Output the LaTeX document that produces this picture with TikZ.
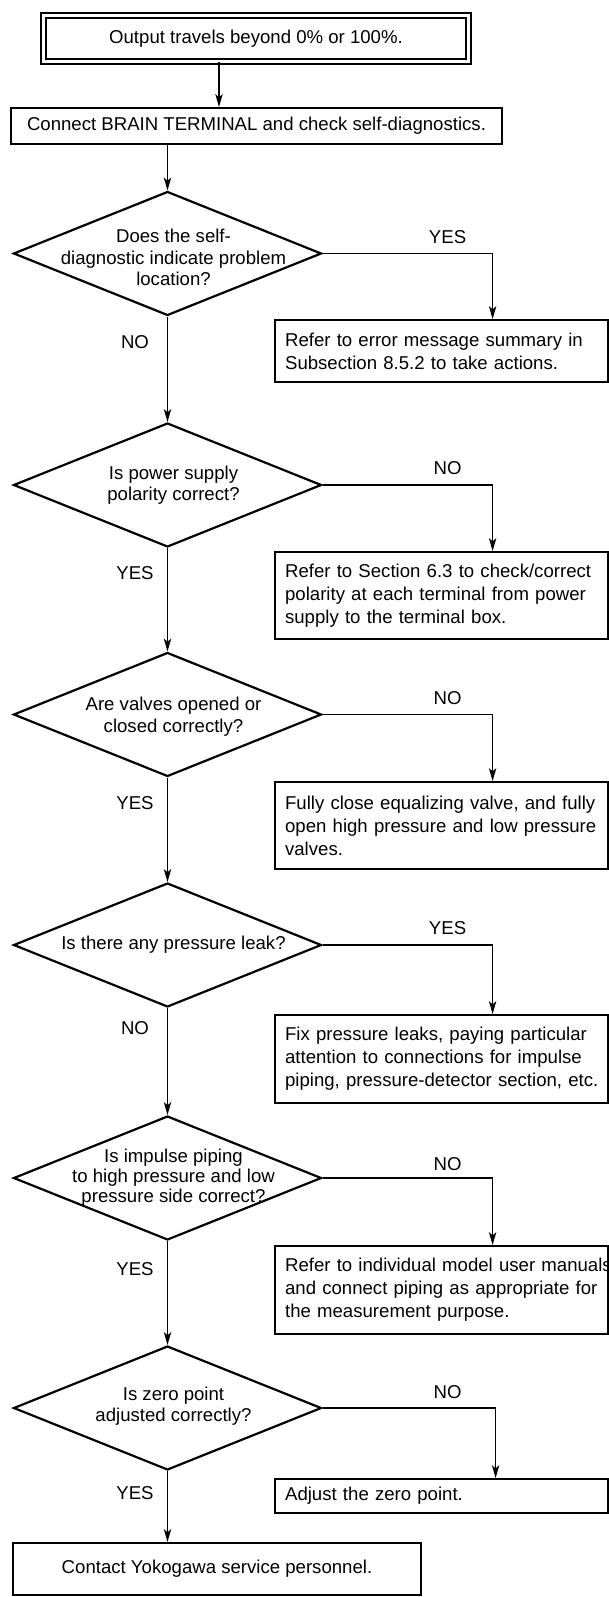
\documentclass[tikz,border=0pt]{standalone}
\usepackage{fontspec}
\setmainfont{Liberation Sans}
\usetikzlibrary{arrows.meta,shapes.geometric}
\tikzset{
  >={Stealth[length=13pt,width=7.5pt,inset=3.5pt]},
  every node/.style={font=\fontsize{18.6pt}{23pt}\selectfont},
  start/.style={draw,double,double distance=3pt,line width=2pt,
    minimum width=425pt,minimum height=46pt,inner sep=0pt,align=center},
  box/.style={draw,line width=2.2pt,inner sep=0pt,align=center},
  act/.style={draw,line width=2.2pt,anchor=north west,minimum width=333pt,
    text width=313pt,inner xsep=10pt,inner ysep=0pt,align=left,minimum height=#1},
  act/.default=87pt,
  decision/.style={diamond,draw,line width=2.2pt,minimum width=308pt,
    minimum height=124pt,inner sep=0pt},
  qtext/.style={align=center,inner sep=0pt,font=\fontsize{18.6pt}{21.5pt}\selectfont},
  flow/.style={->,line width=1.1pt},
  tag/.style={inner sep=0pt},
}
\begin{document}
\begin{tikzpicture}[x=1pt,y=-1pt]
  \useasboundingbox (0,0) rectangle (609,1597);
  % start and first step
  \node[start] (start) at (256,38.5) {Output travels beyond 0\% or 100\%.};
  \node[box,minimum width=491pt,minimum height=36pt] (conn) at (256.5,126) {Connect BRAIN TERMINAL and check self-diagnostics.};
  \coordinate (s1) at ([xshift=-37pt]start.south);
  \draw[flow] (s1) -- (s1 |- conn.north);

  % checks
  \node[decision] (d1) at (167.5,253.5) {};
  \node[qtext] (q1) at ([xshift=6pt,yshift=-4pt]d1.center) {Does the self-\\diagnostic indicate problem\\location?};
  \node[act=62pt] (r1) at (274,319) {Refer to error message summary in\\Subsection 8.5.2 to take actions.};
  \draw[flow] (conn.south -| d1.north) -- (d1.north);
  \draw[flow] (d1.east) -| ([xshift=51pt]r1.north);
  \node[tag] (t1) at ([xshift=125pt,yshift=16pt]d1.east) {YES};
  \node[tag] (n1) at ([xshift=-32.5pt,yshift=-25pt]d1.south) {NO};

  \node[decision] (d2) at (167.5,485) {};
  \node[qtext] (q2) at ([xshift=6pt]d2.center) {Is power supply\\polarity correct?};
  \node[act] (r2) at (274,551) {Refer to Section 6.3 to check/correct\\polarity at each terminal from power\\supply to the terminal box.};
  \draw[flow] (d1.south) -- (d2.north);
  \draw[flow] (d2.east) -| ([xshift=51pt]r2.north);
  \node[tag] (t2) at ([xshift=125pt,yshift=17pt]d2.east) {NO};
  \node[tag] (n2) at ([xshift=-32.5pt,yshift=-25pt]d2.south) {YES};

  \node[decision] (d3) at (167.5,714.5) {};
  \node[qtext] (q3) at ([xshift=6pt,yshift=-2pt]d3.center) {Are valves opened or\\closed correctly?};
  \node[act] (r3) at (274,781) {Fully close equalizing valve, and fully\\open high pressure and low pressure\\valves.};
  \draw[flow] (d2.south) -- (d3.north);
  \draw[flow] (d3.east) -| ([xshift=51pt]r3.north);
  \node[tag] (t3) at ([xshift=125pt,yshift=16pt]d3.east) {NO};
  \node[tag] (n3) at ([xshift=-32.5pt,yshift=-25pt]d3.south) {YES};

  \node[decision] (d4) at (167.5,945) {};
  \node[qtext] (q4) at ([xshift=6pt]d4.center) {Is there any pressure leak?};
  \node[act=88pt] (r4) at (274,1014) {Fix pressure leaks, paying particular\\attention to connections for impulse\\\mbox{piping, pressure-detector section, etc.}};
  \draw[flow] (d3.south) -- (d4.north);
  \draw[flow] (d4.east) -| ([xshift=51pt]r4.north);
  \node[tag] (t4) at ([xshift=125pt,yshift=17pt]d4.east) {YES};
  \node[tag] (n4) at ([xshift=-32.5pt,yshift=-20pt]d4.south) {NO};

  \node[decision] (d5) at (167.5,1178) {};
  \node[qtext,font=\fontsize{18.6pt}{20pt}\selectfont] (q5) at ([xshift=6pt]d5.center) {Is impulse piping\\to high pressure and low\\pressure side correct?};
  \node[act=88pt] (r5) at (274,1245) {\mbox{Refer to individual model user manuals}\\and connect piping as appropriate for\\the measurement purpose.};
  \draw[flow] (d4.south) -- (d5.north);
  \draw[flow] (d5.east) -| ([xshift=51pt]r5.north);
  \node[tag] (t5) at ([xshift=125pt,yshift=14pt]d5.east) {NO};
  \node[tag] (n5) at ([xshift=-32.5pt,yshift=-28pt]d5.south) {YES};

  \node[decision] (d6) at (167.5,1408) {};
  \node[qtext] (q6) at ([xshift=6pt,yshift=2pt]d6.center) {Is zero point\\adjusted correctly?};
  \node[act=34pt] (r6) at (274,1478) {Adjust the zero point.};
  \draw[flow] (d5.south) -- (d6.north);
  \draw[flow] (d6.east) -| ([xshift=54pt]r6.north);
  \node[tag] (t6) at ([xshift=125pt,yshift=16pt]d6.east) {NO};
  \node[tag] (n6) at ([xshift=-32.5pt,yshift=-22pt]d6.south) {YES};

  % end
  \node[box,minimum width=408pt,minimum height=52pt] (fin) at (217,1569) {Contact Yokogawa service personnel.};
  \draw[flow] (d6.south) -- (d6.south |- fin.north);
\end{tikzpicture}
\end{document}
